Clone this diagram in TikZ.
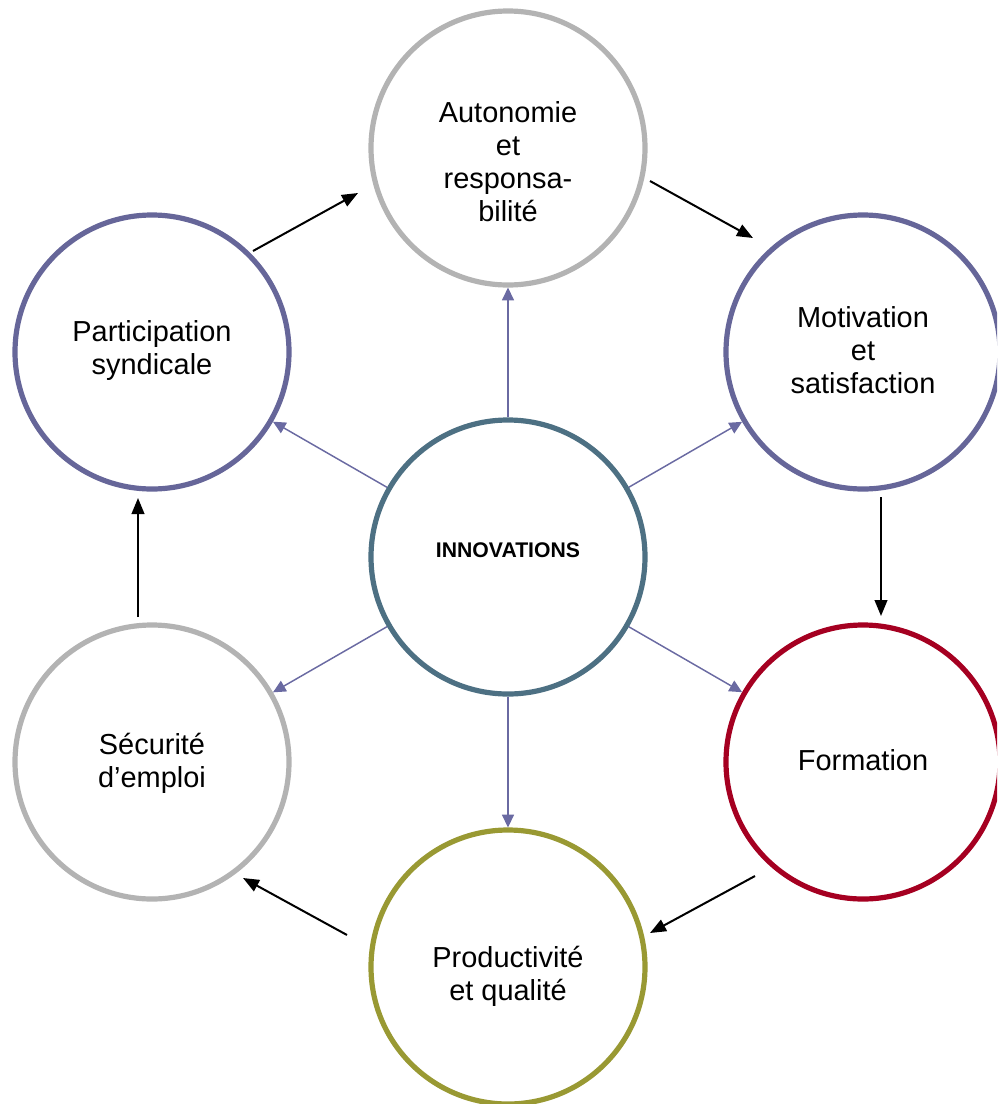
\documentclass[tikz,border=0pt]{standalone}
\usepackage{fontspec}
\setmainfont{Liberation Sans}
\usetikzlibrary{arrows.meta,calc}

\definecolor{ringgray}{HTML}{B3B3B3}
\definecolor{ringpurple}{HTML}{666699}
\definecolor{ringred}{HTML}{A50021}
\definecolor{ringolive}{HTML}{999933}
\definecolor{ringteal}{HTML}{4D7083}
\definecolor{spoke}{HTML}{6A6AA2}

\begin{document}
\begin{tikzpicture}[x=0.75pt,y=-0.75pt,
  ring/.style={circle, draw=#1, line width=3.9pt, minimum size=205.5pt,
               inner sep=0pt, fill=white},
  label text/.style={align=center, font=\fontsize{21.7pt}{24.75pt}\selectfont},
  spokearrow/.style={draw=spoke, line width=1.1pt,
                     -{Triangle[length=9.5pt,width=9pt]}},
  cyclearrow/.style={draw=black, line width=1.5pt,
                     -{Triangle[length=12pt,width=9.5pt]}}]

\useasboundingbox (0,0) rectangle (997,1104);
\clip (0,0) rectangle (997,1104);

% rings of the hexagon and the central ring
\node[ring=ringteal]   (inno) at (508,557) {};
\node[ring=ringgray]   (auto) at (508,148) {};
\node[ring=ringpurple] (moti) at (863,352) {};
\node[ring=ringred]    (form) at (863,762) {};
\node[ring=ringolive]  (prod) at (508,967) {};
\node[ring=ringgray]   (secu) at (152,762) {};
\node[ring=ringpurple] (part) at (152,352) {};

% texts
\node[align=center, font=\bfseries\fontsize{15.9pt}{18pt}\selectfont]
  (innot) at ($(inno)+(0,-7)$) {INNOVATIONS};
\node[label text] (autot) at ($(auto)+(0,14)$) {Autonomie\\et\\responsa-\\bilité};
\node[label text] (motit) at ($(moti)+(0,-2)$) {Motivation\\et\\satisfaction};
\node[label text] (formt) at ($(form)+(0,-2)$) {Formation};
\node[label text] (prodt) at ($(prod)+(0,9)$) {Productivité\\et qualité};
\node[label text] (secut) at ($(secu)+(0,1)$) {Sécurité\\d’emploi};
\node[label text] (partt) at ($(part)+(0,-1)$) {Participation\\syndicale};

% spokes from the centre
\foreach \t in {auto,moti,form,prod,secu,part}
  \draw[spokearrow] (inno) -- (\t);

% ends of the cycle arrows
\coordinate (c1s) at ($(part)+(101,-101)$);
\coordinate (c1e) at ($(auto)+(-150,45)$);
\coordinate (c2s) at ($(auto)+(142,33)$);
\coordinate (c2e) at ($(moti)+(-110,-114)$);
\coordinate (c3s) at ($(moti)+(18,145)$);
\coordinate (c3e) at ($(form)+(18,-146)$);
\coordinate (c4s) at ($(form)+(-108,114)$);
\coordinate (c4e) at ($(prod)+(142,-34)$);
\coordinate (c5s) at ($(prod)+(-161,-32)$);
\coordinate (c5e) at ($(secu)+(91,116)$);
\coordinate (c6s) at ($(secu)+(-14,-145)$);
\coordinate (c6e) at ($(part)+(-14,146)$);

\foreach \i in {1,...,6}
  \draw[cyclearrow] (c\i s) -- (c\i e);

\end{tikzpicture}
\end{document}
